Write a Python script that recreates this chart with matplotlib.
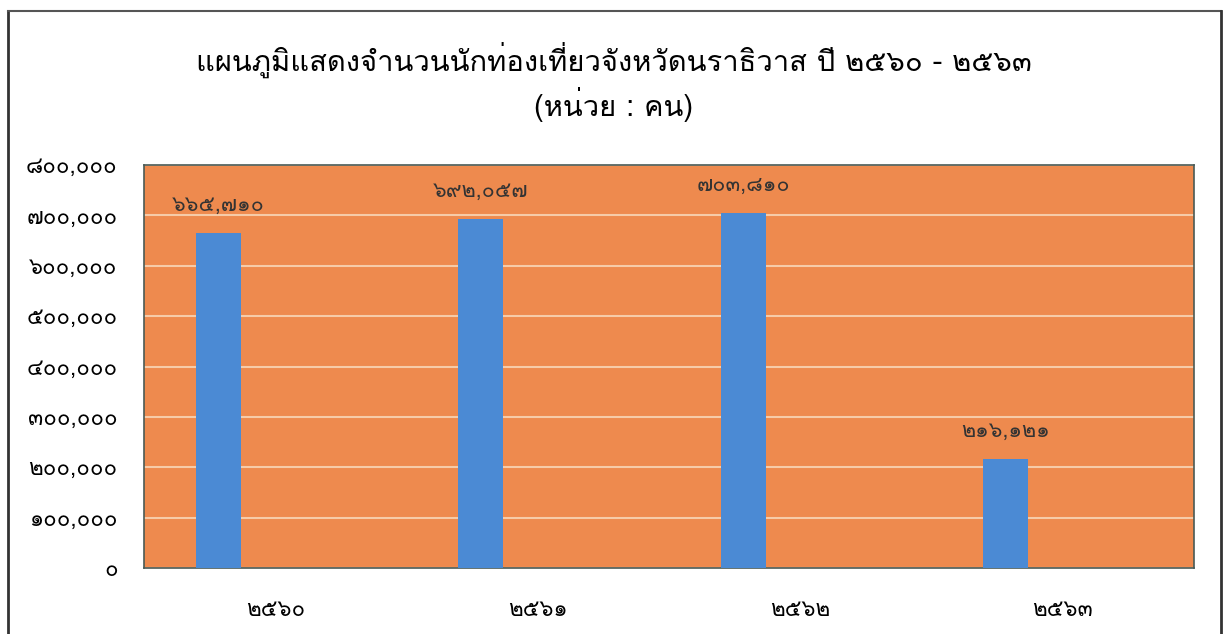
import numpy as np
import matplotlib
matplotlib.use("Agg")
import matplotlib.pyplot as plt
from matplotlib.lines import Line2D

# ข้อมูลนักท่องเที่ยว จ.นราธิวาส (หน่วย: คน)
years = ["๒๕๖๐", "๒๕๖๑", "๒๕๖๒", "๒๕๖๓"]
tourists = [665710, 692057, 703810, 216121]
yticks = [0, 100000, 200000, 300000, 400000, 500000, 600000, 700000, 800000]

THAI_DIGITS = "๐๑๒๓๔๕๖๗๘๙"

def thai_num(v):
    s = "{:,}".format(int(v))
    return "".join(THAI_DIGITS[int(c)] if c.isdigit() else c for c in s)

# Loma วางวรรณยุกต์ซ้อนสระบนได้ถูก (ที่) โดยไม่ต้อง shaping
plt.rcParams['font.family'] = ['Loma', 'DejaVu Sans']

fig = plt.figure(figsize=(12.29, 6.34), dpi=100)
W, H = 1229.0, 634.0
ax = fig.add_axes([144/W, 1 - 568/H, (1194 - 144)/W, (568 - 165)/H])

ax.set_facecolor('#EE8A4E')
x = np.arange(len(years))
bars = ax.bar(x - 0.217, tourists, width=0.172, color='#4B8AD4', zorder=3)
for b, v in zip(bars, tourists):
    ax.text(b.get_x() + b.get_width()/2, v + 55000, thai_num(v), ha='center',
            va='center', fontsize=15.5, color='#333333', zorder=4)

ax.set_ylim(0, 800000)
ax.set_xlim(-0.5, 3.5)
ax.set_yticks(yticks)
ax.set_yticklabels([thai_num(v) for v in yticks], fontsize=16)
ax.set_xticks(x)
ax.set_xticklabels(years, fontsize=16)
ax.tick_params(length=0)
ax.tick_params(axis='y', pad=19)
ax.tick_params(axis='x', pad=23)
ax.grid(axis='y', color='#F6CBA8', linewidth=1.5, zorder=1)
for s in ax.spines.values():
    s.set_color('#4A5A55')
    s.set_linewidth(1.2)

fig.text(614/W, 1 - 60/H, "แผนภูมิแสดงจำนวนนักท่องเที่ยวจังหวัดนราธิวาส ปี ๒๕๖๐ - ๒๕๖๓",
         ha='center', va='center', fontsize=21)
fig.text(614/W, 1 - 104/H, "(หน่วย : คน)", ha='center', va='center', fontsize=21)

# กรอบรอบภาพ
fx0, fx1, fy0 = 8/W, 1221/W, 1 - 11/H
fig.add_artist(Line2D([fx0, fx0], [0, fy0], color='#333333', lw=2))
fig.add_artist(Line2D([fx0, fx1], [fy0, fy0], color='#555555', lw=1.5))
fig.add_artist(Line2D([fx1, fx1], [0, fy0], color='#333333', lw=2))

fig.savefig("out.png", dpi=100)
